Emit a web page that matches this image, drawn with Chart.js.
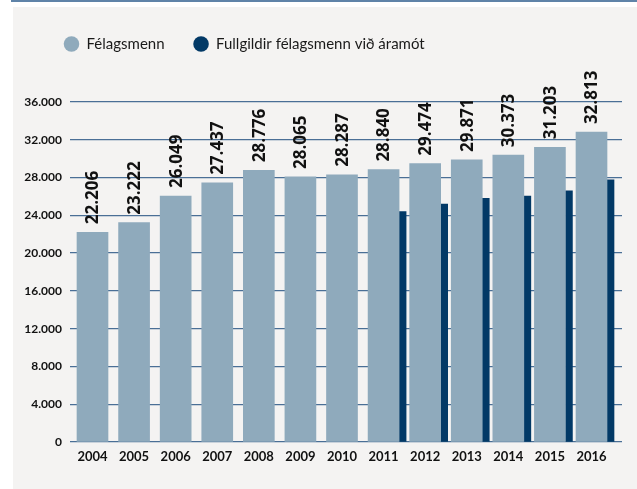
<!DOCTYPE html>
<html>
<head>
<meta charset="utf-8">
<script src="https://cdn.jsdelivr.net/npm/chart.js@4.4.0/dist/chart.umd.min.js"></script>
<style>
  html, body { margin: 0; padding: 0; background: #ffffff; }
  #wrap { position: relative; width: 637px; height: 489px; overflow: hidden; }
  #topline { position: absolute; left: 11px; top: 0; width: 626px; height: 2px; background: #5f83a8; }
  #panel { position: absolute; left: 13px; top: 7px; width: 624px; height: 482px; background: #f4f3f2; }
  #myChart { position: absolute; left: 0; top: 0; }
</style>
</head>
<body>
<div id="wrap">
  <div id="topline"></div>
  <div id="panel"></div>
  <canvas id="myChart" width="637" height="489"></canvas>
</div>
<script>
// Data
const years = [2004, 2005, 2006, 2007, 2008, 2009, 2010, 2011, 2012, 2013, 2014, 2015, 2016];
const members = [22206, 23222, 26049, 27437, 28776, 28065, 28287, 28840, 29474, 29871, 30373, 31203, 32813];
const fullMembers = [null, null, null, null, null, null, null, 24400, 25200, 25800, 26050, 26600, 27750];
const yTicks = { min: 0, max: 36000, step: 4000 };

const lightColor = '#8faabc';
const darkColor = '#023966';
const gridColor = '#4a6f96';

function fmt(v) {
  return String(v).replace(/\B(?=(\d{3})+(?!\d))/g, '.');
}

// rotated value labels above the light bars
const valueLabels = {
  id: 'valueLabels',
  afterDatasetsDraw(chart) {
    const ctx = chart.ctx;
    const meta = chart.getDatasetMeta(0);
    ctx.save();
    ctx.fillStyle = '#111111';
    ctx.font = 'bold 17px "Open Sans"';
    ctx.textAlign = 'left';
    ctx.textBaseline = 'middle';
    meta.data.forEach((bar, i) => {
      ctx.save();
      ctx.translate(bar.x + 1, bar.y - 8);
      ctx.rotate(-Math.PI / 2);
      ctx.fillText(fmt(members[i]), 0, 0);
      ctx.restore();
    });
    ctx.restore();
  }
};

// legend: push the plot down and move the items right
const legendPlace = {
  id: 'legendPlace',
  beforeInit(chart) {
    const origFit = chart.legend.fit;
    chart.legend.fit = function () {
      origFit.bind(chart.legend)();
      this.height = 94.5;
    };
  },
  afterLayout(chart) {
    chart.legend.left = 35;
  }
};

const k = 499 / 12;

new Chart(document.getElementById('myChart'), {
  type: 'bar',
  data: {
    datasets: [
      {
        label: 'Félagsmenn',
        data: years.map((y, i) => ({ x: y, y: members[i] })),
        backgroundColor: lightColor,
        borderWidth: 0,
        barThickness: 31,
      },
      {
        label: 'Fullgildir félagsmenn við áramót',
        data: years.map((y, i) => ({ x: y, y: fullMembers[i] })),
        backgroundColor: darkColor,
        borderWidth: 0,
        barThickness: 7,
      },
    ],
  },
  options: {
    responsive: false,
    animation: false,
    layout: { padding: { left: 0, right: 15, top: 7.5, bottom: 0 } },
    plugins: {
      tooltip: { enabled: false },
      legend: {
        position: 'top',
        align: 'start',
        labels: {
          usePointStyle: true,
          pointStyle: 'circle',
          boxWidth: 15,
          boxHeight: 11,
          padding: 29,
          color: '#1a1a1a',
          font: { family: 'Lato', size: 15 },
        },
      },
    },
    scales: {
      x: {
        type: 'linear',
        offset: false,
        min: 2004 - 38 / k,
        max: 2016 + 15 / k,
        grid: { display: false, drawTicks: false, offset: false },
        border: { display: false },
        afterFit: (s) => { s.height = 47; },
        ticks: {
          stepSize: 1,
          includeBounds: false,
          autoSkip: false,
          maxRotation: 0,
          labelOffset: -15.5,
          padding: 7,
          color: '#111111',
          font: { family: 'Lato', size: 13, weight: 'bold' },
          callback: (v) => String(v),
        },
      },
      y: {
        min: yTicks.min,
        max: yTicks.max,
        afterFit: (s) => { s.width = 70; },
        grid: { color: gridColor, lineWidth: 1.3, drawTicks: false },
        border: { display: false },
        ticks: {
          stepSize: yTicks.step,
          padding: 8,
          color: '#111111',
          font: { family: 'Lato', size: 12, weight: 'bold' },
          callback: (v) => fmt(v),
        },
      },
    },
  },
  plugins: [valueLabels, legendPlace],
});
</script>
</body>
</html>
